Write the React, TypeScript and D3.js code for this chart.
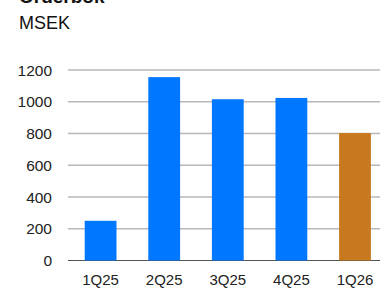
import React from 'react';
import * as d3 from 'd3';

const quarters = ['1Q25', '2Q25', '3Q25', '4Q25', '1Q26'];
const orderbook = [250, 1155, 1016, 1024, 803];
const highlight = ['1Q26'];
const yTicks = [0, 200, 400, 600, 800, 1000, 1200];

const W = 380;
const H = 289;

export default function App() {
  const x = d3.scaleBand<string>()
    .domain(quarters)
    .range([68.8, 386.8])
    .paddingInner(0.5)
    .paddingOuter(0.25);

  const y = d3.scaleLinear().domain([0, 1200]).range([260.5, 70]);

  const font = '"Liberation Sans", Arial, sans-serif';

  return (
    <svg
      width={W}
      height={H}
      style={{ position: 'absolute', left: 0, top: 0, background: '#fff' }}
      fontFamily={font}
    >
      {/* title, cut at the top edge as in the original */}
      <text x={19} y={3} fontSize={19} fontWeight="bold" fill="#111">Orderbok</text>
      <text x={19} y={29} fontSize={18} fill="#111">MSEK</text>

      {/* gridlines */}
      {yTicks.map(t => (
        <g key={t}>
          <line
            x1={68}
            x2={W}
            y1={y(t)}
            y2={y(t)}
            stroke={t === 0 ? '#555' : '#b8b8b8'}
            strokeWidth={t === 0 ? 1.2 : 1.3}
          />
          <text
            x={52}
            y={y(t)}
            dy="0.36em"
            textAnchor="end"
            fontSize={15.5}
            fill="#222"
          >
            {t}
          </text>
        </g>
      ))}

      {/* bars */}
      {quarters.map((q, i) => (
        <rect
          key={q}
          x={x(q)}
          y={y(orderbook[i])}
          width={x.bandwidth()}
          height={y(0) - y(orderbook[i])}
          fill={highlight.includes(q) ? '#c8781f' : '#0077ff'}
        />
      ))}

      {/* x labels */}
      {quarters.map(q => (
        <text
          key={q}
          x={(x(q) ?? 0) + x.bandwidth() / 2}
          y={285}
          textAnchor="middle"
          fontSize={15}
          fill="#222"
        >
          {q}
        </text>
      ))}
    </svg>
  );
}
